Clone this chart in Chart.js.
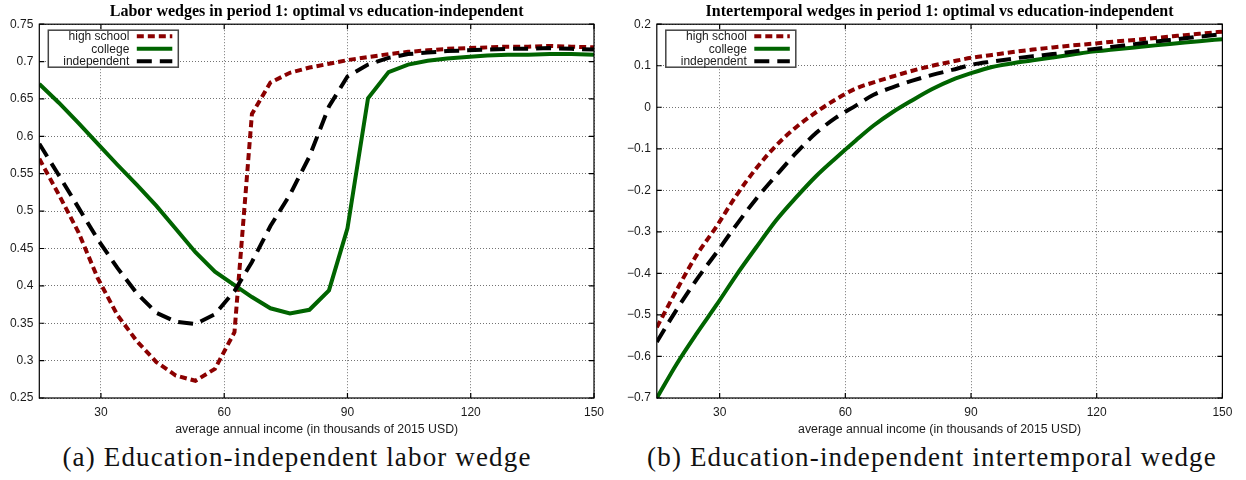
<!DOCTYPE html>
<html>
<head>
<meta charset="utf-8">
<title>Education-independent wedges</title>
<script src="https://cdn.jsdelivr.net/npm/chart.js@4.4.1/dist/chart.umd.min.js"></script>
<style>
  html, body { margin: 0; padding: 0; background: #fff; }
  body { width: 1246px; height: 480px; position: relative; overflow: hidden; }
  .panel { position: absolute; top: 0; height: 440px; }
  #p1 { left: 0; width: 620px; }
  #p2 { left: 620px; width: 626px; }
  .cap {
    position: absolute; top: 443px; line-height: 28px;
    font-family: "Liberation Serif", serif; font-size: 27px; letter-spacing: 1.15px; color: #111;
    white-space: nowrap; text-align: center;
  }
  #cap1 { left: 0; width: 594px; }
  #cap2 { left: 640px; width: 584px; }
</style>
</head>
<body>
<div class="panel" id="p1"><canvas id="c1" width="620" height="440"></canvas></div>
<div class="panel" id="p2"><canvas id="c2" width="626" height="440"></canvas></div>
<div class="cap" id="cap1">(a) Education-independent labor wedge</div>
<div class="cap" id="cap2">(b) Education-independent intertemporal wedge</div>

<script>
// Average annual income grid (thousands of 2015 USD)
const income = [15, 19.75, 24.5, 29.25, 34, 38.75, 43.5, 48.25, 53, 57.75, 62.5, 66.75, 71.25, 76,
  80.75, 85.5, 90, 95, 100, 104.75, 109.5, 114.25, 119, 124, 129, 134, 139.25, 144.5, 150];

const seriesNames = ['high school', 'college', 'independent'];

// Labor wedges in period 1
const laborHighSchool = [0.570, 0.522, 0.472, 0.410, 0.361, 0.326, 0.298, 0.280, 0.273, 0.289, 0.338,
  0.630, 0.672, 0.685, 0.692, 0.697, 0.702, 0.706, 0.710, 0.713, 0.715, 0.717, 0.718, 0.719, 0.720,
  0.720, 0.721, 0.720, 0.719];
const laborCollege = [0.670, 0.645, 0.618, 0.590, 0.562, 0.535, 0.507, 0.476, 0.445, 0.419, 0.401,
  0.385, 0.370, 0.363, 0.368, 0.394, 0.477, 0.651, 0.686, 0.696, 0.701, 0.704, 0.706, 0.708, 0.709,
  0.709, 0.710, 0.710, 0.709];
const laborIndependent = [0.590, 0.548, 0.505, 0.462, 0.424, 0.390, 0.364, 0.352, 0.349, 0.362, 0.393,
  0.432, 0.480, 0.522, 0.573, 0.640, 0.680, 0.696, 0.705, 0.710, 0.712, 0.714, 0.715, 0.716, 0.717,
  0.717, 0.718, 0.717, 0.716];

// Intertemporal wedges in period 1
const interHighSchool = [-0.530, -0.440, -0.356, -0.287, -0.212, -0.147, -0.092, -0.048, -0.012, 0.019,
  0.045, 0.060, 0.074, 0.088, 0.100, 0.110, 0.119, 0.126, 0.133, 0.139, 0.144, 0.149, 0.153, 0.158,
  0.162, 0.167, 0.172, 0.177, 0.182];
const interCollege = [-0.700, -0.618, -0.545, -0.476, -0.404, -0.337, -0.272, -0.217, -0.166, -0.122,
  -0.080, -0.044, -0.012, 0.017, 0.044, 0.066, 0.082, 0.097, 0.106, 0.113, 0.120, 0.127, 0.134, 0.139,
  0.144, 0.149, 0.154, 0.159, 0.164];
const interIndependent = [-0.565, -0.487, -0.415, -0.350, -0.283, -0.220, -0.164, -0.110, -0.062, -0.025,
  0.004, 0.030, 0.048, 0.064, 0.078, 0.090, 0.102, 0.110, 0.117, 0.123, 0.128, 0.134, 0.140, 0.146,
  0.152, 0.158, 0.164, 0.170, 0.176];

// Tick values
const xTickValues = [30, 60, 90, 120, 150];
const laborYTicks = [0.25, 0.3, 0.35, 0.4, 0.45, 0.5, 0.55, 0.6, 0.65, 0.7, 0.75];
const interYTicks = [-0.7, -0.6, -0.5, -0.4, -0.3, -0.2, -0.1, 0, 0.1, 0.2];

const xAxisTitle = 'average annual income (in thousands of 2015 USD)';

const lineStyles = [
  { color: '#8b0000', dash: [7, 4] },
  { color: '#006400', dash: [] },
  { color: '#000000', dash: [15, 8] }
];

const tickFont = { family: '"Liberation Sans", Arial, sans-serif', size: 12 };
const textColor = '#1a1a1a';

function fmtTick(v) {
  const s = String(Math.round(v * 100) / 100);
  return s.replace('-', '\u2212');
}

// Frame box, inward mirrored ticks, plot title and the key box
const framePlugin = {
  id: 'frameAndKey',
  afterDatasetsDraw(chart, args, opts) {
    const { ctx, chartArea: a, scales: { x, y } } = chart;
    ctx.save();
    ctx.setLineDash([]);
    ctx.strokeStyle = '#000';
    ctx.lineWidth = 1.2;
    ctx.strokeRect(a.left, a.top, a.right - a.left, a.bottom - a.top);
    ctx.beginPath();
    const t = 5;
    x.ticks.forEach(tk => {
      const px = x.getPixelForValue(tk.value);
      ctx.moveTo(px, a.bottom); ctx.lineTo(px, a.bottom - t);
      ctx.moveTo(px, a.top); ctx.lineTo(px, a.top + t);
    });
    y.ticks.forEach(tk => {
      const py = y.getPixelForValue(tk.value);
      ctx.moveTo(a.left, py); ctx.lineTo(a.left + t, py);
      ctx.moveTo(a.right, py); ctx.lineTo(a.right - t, py);
    });
    ctx.stroke();

    // key
    const bx = a.left + 9, by = a.top + 6, bw = 130, bh = 37;
    ctx.fillStyle = '#fff';
    ctx.fillRect(bx, by, bw, bh);
    ctx.strokeStyle = '#444';
    ctx.lineWidth = 1.5;
    ctx.strokeRect(bx, by, bw, bh);
    ctx.font = '12px "Liberation Sans", Arial, sans-serif';
    ctx.textAlign = 'right';
    ctx.textBaseline = 'middle';
    chart.data.datasets.forEach((ds, i) => {
      const ry = by + 6 + i * 12.5;
      ctx.fillStyle = textColor;
      ctx.fillText(ds.label, a.left + 90, ry + 0.5);
      ctx.beginPath();
      ctx.strokeStyle = ds.borderColor;
      ctx.lineWidth = ds.borderWidth;
      ctx.setLineDash(ds.borderDash || []);
      ctx.moveTo(a.left + 97.5, ry);
      ctx.lineTo(a.left + 133, ry);
      ctx.stroke();
    });
    ctx.setLineDash([]);

    // title
    ctx.fillStyle = '#000';
    ctx.font = 'bold 16px "Liberation Serif", "Times New Roman", serif';
    ctx.textAlign = 'center';
    ctx.textBaseline = 'middle';
    ctx.fillText(opts.text, (a.left + a.right) / 2, 12);
    ctx.restore();
  }
};

function makeChart(id, title, yMin, yMax, yTicks, values, yAxisWidth, padRight, smooth) {
  const datasets = values.map((vals, i) => ({
    label: seriesNames[i],
    data: income.map((inc, k) => ({ x: inc, y: vals[k] })),
    borderColor: lineStyles[i].color,
    borderWidth: 4,
    borderDash: lineStyles[i].dash,
    pointRadius: 0,
    fill: false,
    tension: 0,
    cubicInterpolationMode: smooth ? 'monotone' : 'default',
    order: 3 - i
  }));
  return new Chart(document.getElementById(id), {
    type: 'line',
    data: { datasets },
    plugins: [framePlugin],
    options: {
      responsive: false,
      animation: false,
      devicePixelRatio: 1,
      layout: { padding: { left: 0, right: padRight, top: 24.2, bottom: 0 } },
      plugins: {
        legend: { display: false },
        tooltip: { enabled: false },
        title: { display: false },
        frameAndKey: { text: title }
      },
      scales: {
        x: {
          type: 'linear', min: 15, max: 150,
          afterBuildTicks: s => { s.ticks = xTickValues.map(v => ({ value: v })); },
          afterFit: s => { s.height = 42; },
          grid: { color: 'rgba(0,0,0,0.55)', lineWidth: 1, drawTicks: false },
          border: { display: false, dash: [1, 2] },
          ticks: { padding: 7, font: tickFont, color: textColor, maxRotation: 0, autoSkip: false,
                   callback: v => String(v) },
          title: { display: true, text: xAxisTitle, color: textColor,
                   font: { family: '"Liberation Sans", Arial, sans-serif', size: 12.3 },
                   padding: { top: 0, bottom: 3 } }
        },
        y: {
          type: 'linear', min: yMin, max: yMax,
          afterBuildTicks: s => { s.ticks = yTicks.map(v => ({ value: v })); },
          afterFit: s => { s.width = yAxisWidth; },
          grid: { color: 'rgba(0,0,0,0.55)', lineWidth: 1, drawTicks: false },
          border: { display: false, dash: [1, 2] },
          ticks: { padding: 6, font: tickFont, color: textColor, autoSkip: false,
                   callback: v => fmtTick(v) }
        }
      }
    }
  });
}

makeChart('c1', 'Labor wedges in period 1: optimal vs education-independent',
  0.25, 0.75, laborYTicks, [laborHighSchool, laborCollege, laborIndependent], 39.3, 26, false);
makeChart('c2', 'Intertemporal wedges in period 1: optimal vs education-independent',
  -0.7, 0.2, interYTicks, [interHighSchool, interCollege, interIndependent], 36.8, 23.6, true);
</script>
</body>
</html>
